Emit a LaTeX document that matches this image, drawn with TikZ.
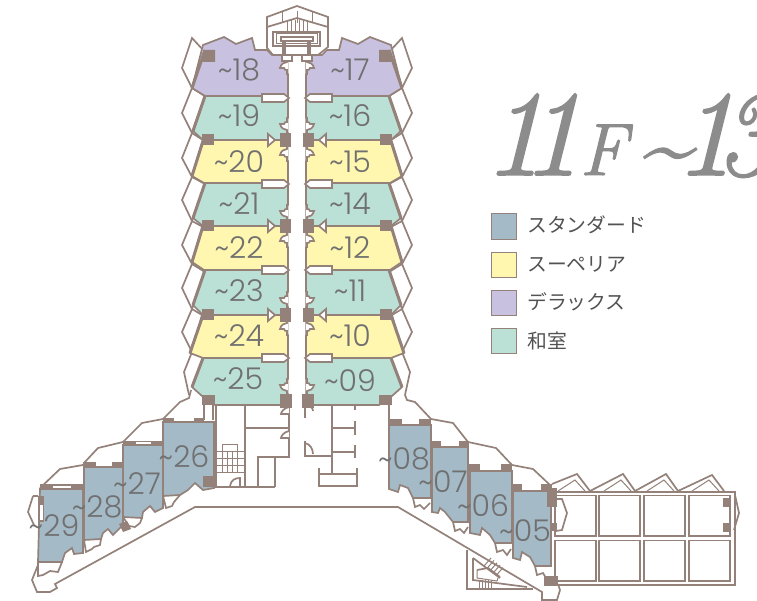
\documentclass[tikz,border=0pt]{standalone}
\usepackage{fontspec}
\newfontfamily\numf{Poppins Light}
\newfontfamily\jpf{Noto Sans CJK JP}
\newfontfamily\titlef[FakeBold=1.4]{Latin Modern Roman}
\definecolor{wallc}{HTML}{93817A}
\definecolor{cgreen}{HTML}{BBE0D6}
\definecolor{cyellow}{HTML}{FFF7B0}
\definecolor{cpurple}{HTML}{C8C1E0}
\definecolor{cblue}{HTML}{A4BAC7}
\definecolor{textc}{HTML}{707070}
\definecolor{titlec}{HTML}{8C8C8C}
\tikzset{
  wall/.style={draw=wallc,line width=1.7pt,line join=miter},
  thin wall/.style={draw=wallc,line width=1pt},
  thick wall/.style={draw=wallc,line width=3pt},
  col/.style={fill=wallc,draw=none},
  lab/.style={inner sep=0pt,text=textc,font=\numf\fontsize{30}{30}\selectfont},
  legtext/.style={inner sep=0pt,anchor=west,text=black!68,font=\jpf\fontsize{19.8}{20}\selectfont},
  swatch/.style={draw=wallc,line width=1.2pt,minimum size=25.5pt,inner sep=0pt}
}
\newcommand{\bellT}[1]{% bell below a column / above room
  \draw[wall,fill=white] (288.5,#1-8) -- (287,#1-8) -- (287,#1-5) .. controls (284,#1-5) and (281,#1-3) .. (280,#1+1) -- (284,#1+1) .. controls (284,#1+3) and (286,#1+3) .. (287,#1+3) -- (287,#1+7) -- (288.5,#1+7);
}
\newcommand{\bellB}[1]{%
  \draw[wall,fill=white] (288.5,#1+7) -- (287,#1+7) -- (287,#1+4) .. controls (284,#1+4) and (281,#1+2) .. (280,#1-2) -- (284,#1-2) .. controls (284,#1-4) and (286,#1-4) .. (287,#1-4) -- (287,#1-8) -- (288.5,#1-8);
}
\newcommand{\balconyrect}[1]{%
  \draw[wall,fill=white] (262,#1-4) -- (284,#1-4) -- (289,#1) -- (284,#1+4) -- (262,#1+4) -- cycle;
}
\newcommand{\doortri}[1]{%
  \draw[thin wall] (275,#1) -- (281,#1);
  \draw[wall,fill=white] (268,#1-6) -- (275,#1) -- (268,#1+6) -- cycle;
  \fill[col] (280,#1-7) rectangle (291,#1+7);
  \fill[col] (202,#1-6) rectangle (214,#1+5.5);
}
\newcommand{\towerwing}{%
  % outer balconies
  \foreach \ya/\yb/\yc/\xt in {38/68/88/204,88/113/133/205,133/158/177/203,177/200/221/205,221/245/264/203,264/288/309/205,309/332/352/202}{
    \draw[wall,fill=white] (192,\ya) -- (182,\yb) -- (192,\yc) -- (\xt,\yc-37) -- cycle;
  }
  \draw[wall] (192,352) -- (184,372) -- (189,395);
  % rooms
  \draw[wall,fill=cpurple] (203,45) -- (224,37) -- (236,44) -- (252,38) -- (255,50) -- (267,50) -- (272,55) -- (282,55) -- (288,62) -- (288,96) -- (205,96) -- (192,88) -- cycle;
  \draw[wall,fill=cgreen] (205,96) -- (288,96) -- (288,140) -- (203,140) -- (193,131) -- cycle;
  \draw[wall,fill=cyellow] (203,140) -- (288,140) -- (288,183) -- (204,183) -- (192,176) -- cycle;
  \draw[wall,fill=cgreen] (205,183) -- (288,183) -- (288,226) -- (203,226) -- (193,218) -- cycle;
  \draw[wall,fill=cyellow] (203,226) -- (288,226) -- (288,270) -- (204,270) -- (192,262) -- cycle;
  \draw[wall,fill=cgreen] (205,270) -- (288,270) -- (288,315) -- (203,315) -- (193,305) -- cycle;
  \draw[wall,fill=cyellow] (203,315) -- (288,315) -- (288,358) -- (203,358) -- (190,353) -- cycle;
  \draw[wall,fill=cgreen] (203,358) -- (288,358) -- (288,405) -- (215,405) -- (202,396) -- (192,387) -- cycle;
  % thick outer walls
  \draw[thick wall] (205,50) -- (192,88);
  \draw[thick wall] (205,96) -- (193,131);
  \draw[thick wall] (203,141) -- (192,176);
  \draw[thick wall] (205,183) -- (193,218);
  \draw[thick wall] (203,226) -- (192,262);
  \draw[thick wall] (205,270) -- (193,305);
  \draw[thick wall] (203,315) -- (190,353);
  \draw[thick wall] (203,358) -- (192,387);
  % corridor wall
  \draw[wall] (288,58) -- (288,405);
  % balcony rects
  \balconyrect{98}\balconyrect{184}\balconyrect{270}\balconyrect{358}
  % bells
  \foreach \b in {67,154,240,328}{\bellT{\b}}
  \foreach \b in {126,213,300,387}{\bellB{\b}}
  % doors and columns
  \doortri{140}\doortri{226}\doortri{315}
  \fill[col] (204,50) -- (215,50) -- (215,62) -- (202,62) -- cycle;
  \fill[col] (202,395) rectangle (215,405);
  \fill[col] (280,394) rectangle (292,408);
  % small bits at the top
  \draw[wall,fill=white] (282,55) rectangle (292,61);
}
\begin{document}
\begin{tikzpicture}[x=1pt,y=-1pt]
\useasboundingbox (0,0) rectangle (757,601);
\begin{scope}
\clip (0,0) rectangle (757,601);
\node[inner sep=0pt,anchor=base west,text=titlec] (title) at (483,175) {\fontsize{122}{122}\selectfont\titlef\itshape 1\kern-.19em 1\kern-.02em{\fontsize{74}{74}\selectfont F}\kern.1em\raisebox{-.01em}{\fontsize{92}{92}\selectfont\textasciitilde}\kern-.13em 1\kern-.16em 3};
\end{scope}

% ---- lower outline
\draw[wall] (38,565) -- (32,580) -- (37,592) -- (50,592) -- (57,588) -- (55,584) -- (195,507) -- (398,507) -- (542,592) -- (542,600) -- (557,600) -- (560,590) -- (558,584);

% ---- right block
\draw[wall] (552,492) -- (735,492) -- (735,585) -- (552,585);
\foreach \x in {555,599,644,689}{
  \draw[wall] (\x,495.5) rectangle (\x+41,536);
  \draw[wall] (\x,540.5) rectangle (\x+41,581);
}
\draw[wall] (552,484) -- (577,474) -- (590,491) -- (623,474) -- (635,491) -- (666,474) -- (678,491) -- (712,475) -- (724,491);
\foreach \d in {0,46,89,134}{
  \draw[thin wall] (558+\d,491) -- (575+\d,480) -- (585+\d,491);
}
\draw[wall] (735,495) -- (739,513) -- (734,530);
\fill[col] (723,498) rectangle (730,507);
\fill[col] (723,523) rectangle (730,532);
\draw[wall] (556,499) -- (562,499) -- (567,513) -- (562,530) -- (556,531);

% ---- lower-right stairs
\draw[wall] (467,550) -- (467,589) -- (533,589);
\draw[wall] (473,558) -- (473,580) -- (527,587);
\draw[wall] (473,558) -- (500,578);
\draw[wall] (477,570) -- (488,568) -- (500,577);
\draw[thin wall] (477,570) -- (477,578) -- (497,581) -- (498,578);
\foreach \d in {0,3,6,9,12}{
  \draw[thin wall] (479+\d,580) -- (479+\d,588);
  \draw[thin wall] (484+\d,566+\d*.8) -- (491+\d,558+\d*.8);
}

% ---- core, left part
\draw[wall] (216,405) -- (216,487) -- (275,487);
\draw[wall] (245,405) -- (245,487);
\draw[wall] (245,428) -- (289,428);
\draw[wall] (258,487) -- (258,457) -- (289,457) -- (289,405);
\draw[wall] (275,457) -- (275,487);
\draw[wall] (204,405) -- (204,420);
\draw[wall] (213,405) -- (213,420);
% stairs
\draw[thin wall] (222,451) -- (222,444) -- (237,444) -- (237,451);
\foreach \y in {451,458,465,472}{\draw[thin wall] (216,\y) -- (245,\y);}
\foreach \x in {222,227,232,237}{\draw[thin wall] (\x,451) -- (\x,472);}
\draw[wall] (230,486) .. controls (231,480) and (235,478) .. (240,478) -- (240,486);
\foreach \y in {411,435}{
  \draw[wall,fill=white] (289,\y-4) .. controls (284,\y-3) and (281,\y+1) .. (281,\y+3) -- (289,\y+3);
}

% ---- core, right part
\draw[wall] (305,405) -- (305,418);
\draw[wall] (305,441) -- (305,456) -- (332,456);
\draw[wall] (332,405) -- (332,473);
\draw[wall] (332,428) -- (354,428);
\draw[wall] (332,452) -- (354,452);
\draw[wall] (355,405) -- (355,410);
\draw[wall] (355,421) -- (355,435);
\draw[wall] (355,445) -- (355,458);
\draw[wall] (319,468) -- (319,486) -- (357,486) -- (357,468);
\draw[wall] (319,474) -- (357,474);
\draw[wall] (389,405) -- (389,425);
\foreach \y in {411}{
  \draw[wall] (305,\y-6) .. controls (310,\y-6) and (313,\y-3) .. (313,\y);
}
\draw[wall] (305,443) .. controls (310,444) and (313,449) .. (313,454);

% ---- towers
\towerwing
\begin{scope}[xshift=594pt,xscale=-1]
\towerwing
\end{scope}

% ---- top pavilion
\draw[wall,fill=white] (267,17) -- (297,6) -- (328,17) -- (328,47) -- (318,55) -- (273,55) -- (267,48) -- cycle;
\draw[wall] (267,27) -- (297,18) -- (328,27);
\foreach \x in {282,297,312}{\draw[thin wall] (\x,11) -- (\x,23);}
\foreach \x in {287,291,295,299,303,307}{\draw[thin wall] (\x,20) -- (\x,32);}
\draw[wall] (273,32) rectangle (320,46);
\draw[thin wall] (276,34) rectangle (317,44);
\draw[wall,fill=white] (281,37) rectangle (313,41);
\draw[wall] (285,41) -- (285,55);
\draw[wall] (308,41) -- (308,55);
\draw[wall] (283,41) -- (283,55);
\draw[wall] (310,41) -- (310,55);

% ---- left wing: balconies
\draw[wall] (40,488) -- (60,469) -- (83,465);
\draw[wall] (84,463) -- (98,448) -- (123,442);
\draw[wall] (123,442) -- (142,423) -- (163,419);
\draw[wall] (163,419) -- (180,402) -- (189,398) -- (191,390);
\draw[wall] (33,496) -- (28,512) -- (34,525);
\draw[wall] (33,496) -- (38,496);
\draw[wall] (38,562) -- (38,576) -- (43,575) -- (50,571) -- (58,572) -- (62,562);
\draw[wall] (84,540) -- (86,552) -- (92,549) -- (94,547) -- (100,545) -- (101,539);
\draw[wall] (123,517) -- (129,526) -- (135,527) -- (140,523) -- (142,518);
\draw[wall] (163,496) -- (166,508) -- (172,506) -- (174,502) -- (180,495);

% ---- left wing: rooms
\draw[wall,fill=cblue] (163,422) -- (214,422) -- (214,488) -- (203,490) -- (195,483) -- (188,490) -- (180,495) -- (163,496) -- cycle;
\draw[wall,fill=cblue] (123,445) -- (163,445) -- (163,508) -- (155,512) -- (150,506) -- (143,512) -- (142,518) -- (123,517) -- cycle;
\draw[wall,fill=cblue] (84,467) -- (123,467) -- (123,525) -- (113,535) -- (108,529) -- (103,533) -- (101,539) -- (84,540) -- cycle;
\draw[wall,fill=cblue] (40,489) -- (83,489) -- (83,553) -- (74,554) -- (72,548) -- (65,553) -- (62,562) -- (38,562) -- cycle;
% columns left wing
\fill[col] (163,418) rectangle (174,422);
\fill[col] (194,418) rectangle (204,422);
\fill[col] (203,476) rectangle (216,487);
\fill[col] (123,441) rectangle (163,445);
\draw[draw=none,fill=white] (136,442) rectangle (151,444);
\fill[col] (83,462) rectangle (96,467);
\fill[col] (112,462) rectangle (123,467);
\fill[col] (40,484) rectangle (83,489);
\draw[draw=none,fill=white] (53,485.5) rectangle (71,487.5);
\fill[col] (119,524) -- (127,521) -- (131,529) -- (123,532) -- cycle;
\fill[col] (38,496) rectangle (44,522);
\draw[draw=none,fill=white] (39.5,505) rectangle (43,520);

% ---- right wing: balconies
\draw[wall] (405,395) -- (407,400) -- (415,402) -- (431,419) -- (453,423) -- (468,442) -- (496,448) -- (512,465) -- (533,469) -- (550,485);
\draw[wall] (413,498) -- (415,507) -- (420,505) -- (424,509) -- (430,503);
\draw[wall] (453,522) -- (455,531) -- (460,529) -- (464,533) -- (468,527);
\draw[wall] (495,543) -- (497,552) -- (503,550) -- (507,555) -- (511,549);
\draw[wall] (535,566) -- (537,575) -- (543,573) -- (546,578);
% right wing: rooms
\draw[wall,fill=cblue] (389,425) -- (431,425) -- (431,498) -- (413,498) -- (408,488) -- (400,485) -- (398,492) -- (389,489) -- cycle;
\draw[wall,fill=cblue] (432,447) -- (468,447) -- (468,522) -- (453,522) -- (445,512) -- (440,508) -- (438,513) -- (432,512) -- cycle;
\draw[wall,fill=cblue] (470,471) -- (512,471) -- (512,543) -- (495,543) -- (490,535) -- (482,528) -- (480,535) -- (470,533) -- cycle;
\draw[wall,fill=cblue] (513,491) -- (551,491) -- (551,566) -- (535,566) -- (530,557) -- (522,552) -- (520,560) -- (513,558) -- cycle;
% columns right wing
\fill[col] (389,419) rectangle (402,425);
\fill[col] (419,419) rectangle (431,425);
\fill[col] (431,441) rectangle (441,447);
\fill[col] (459,441) rectangle (469,447);
\fill[col] (469,464) rectangle (480,470);
\fill[col] (501,464) rectangle (512,470);
\fill[col] (512,484) rectangle (522,490);
\fill[col] (541,484) rectangle (552,490);
\fill[col] (547,488) rectangle (557,507);
\fill[col] (551,523) rectangle (557,531);
\fill[col] (544,576) rectangle (558,586);

% ---- labels
\node[lab] (r18) at (239,70) {\textasciitilde 18};
\node[lab] (r19) at (239,116) {\textasciitilde 19};
\node[lab] (r20) at (239,162) {\textasciitilde 20};
\node[lab] (r21) at (239,204) {\textasciitilde 21};
\node[lab] (r22) at (239,248) {\textasciitilde 22};
\node[lab] (r23) at (239,291) {\textasciitilde 23};
\node[lab] (r24) at (239,336) {\textasciitilde 24};
\node[lab] (r25) at (238,379) {\textasciitilde 25};
\node[lab] (r17) at (350,70) {\textasciitilde 17};
\node[lab] (r16) at (350,116) {\textasciitilde 16};
\node[lab] (r15) at (350,162) {\textasciitilde 15};
\node[lab] (r14) at (350,204) {\textasciitilde 14};
\node[lab] (r12) at (350,248) {\textasciitilde 12};
\node[lab] (r11) at (350,291) {\textasciitilde 11};
\node[lab] (r10) at (350,336) {\textasciitilde 10};
\node[lab] (r09) at (350,381) {\textasciitilde 09};
\node[lab] (r26) at (184,457) {\textasciitilde 26};
\node[lab] (r27) at (137,484) {\textasciitilde 27};
\node[lab] (r28) at (97,507) {\textasciitilde 28};
\node[lab] (r29) at (54,526) {\textasciitilde 29};
\node[lab] (r08) at (404,459) {\textasciitilde 08};
\node[lab] (r07) at (443,482) {\textasciitilde 07};
\node[lab] (r06) at (483,506) {\textasciitilde 06};
\node[lab] (r05) at (525,531) {\textasciitilde 05};

% ---- legend
\node[swatch,fill=cblue] (s1) at (504,226.5) {};
\node[swatch,fill=cyellow] (s2) at (504,265) {};
\node[swatch,fill=cpurple] (s3) at (504,303) {};
\node[swatch,fill=cgreen] (s4) at (504,341) {};
\node[legtext] (t1) at (527,225) {スタンダード};
\node[legtext] (t2) at (527,264) {スーペリア};
\node[legtext] (t3) at (527,302) {デラックス};
\node[legtext] (t4) at (527,341) {和室};
\end{tikzpicture}
\end{document}
